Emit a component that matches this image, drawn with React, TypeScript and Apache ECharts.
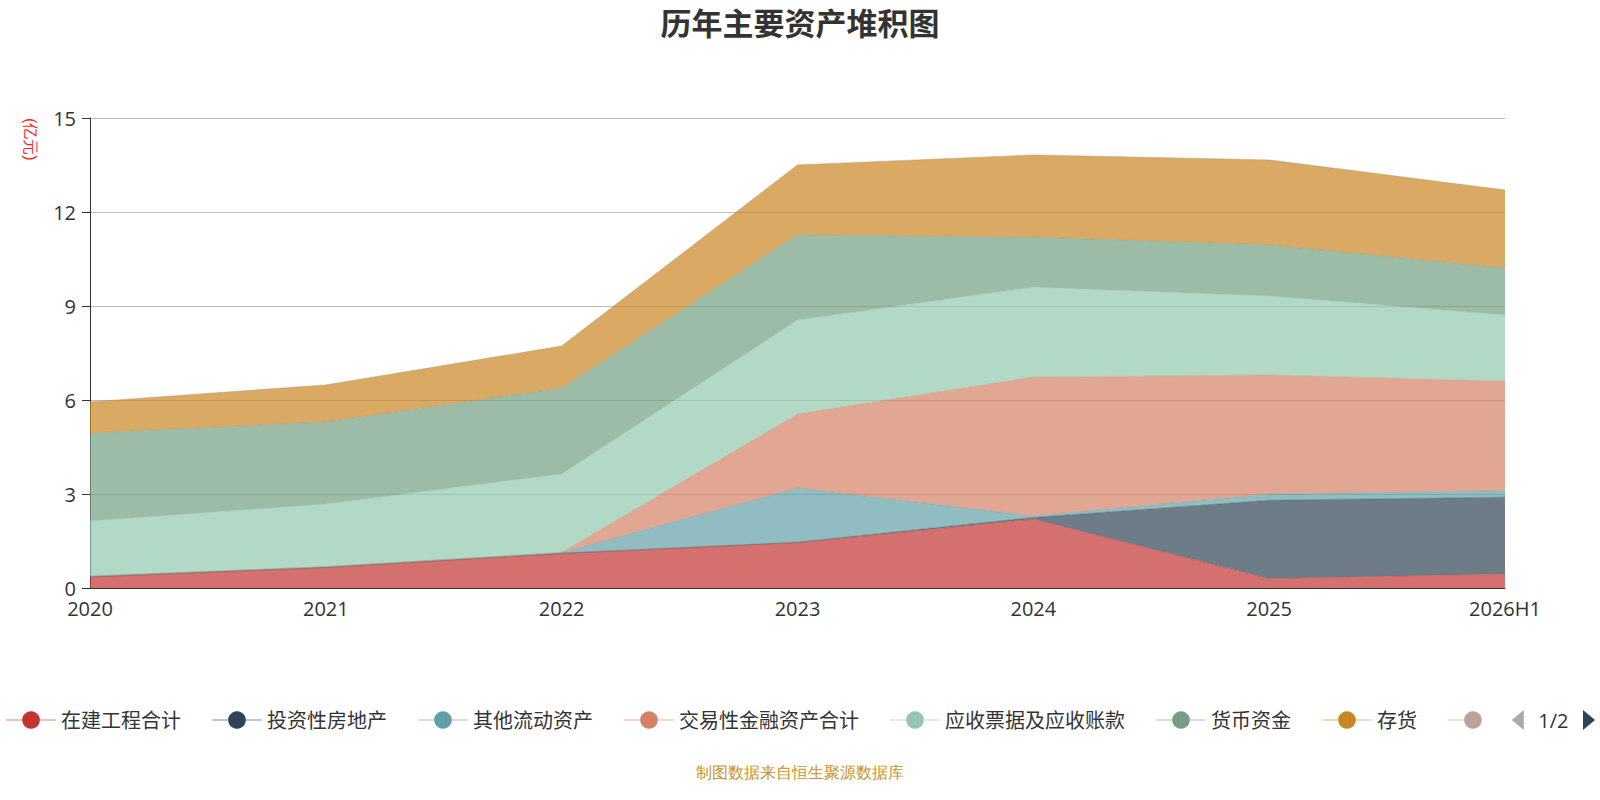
import { useEffect, useRef } from "react";
import * as echarts from "echarts";

const YEARS = ["2020", "2021", "2022", "2023", "2024", "2025", "2026H1"];
const NAMES = ["在建工程合计", "投资性房地产", "其他流动资产", "交易性金融资产合计", "应收票据及应收账款", "货币资金", "存货", "其他非流动资产"];
const COLORS = ["#c23531", "#2f4554", "#61a0a8", "#d48265", "#91c7ae", "#749f83", "#ca8622", "#bda29a"];
const CIP = [0.35, 0.65, 1.1, 1.45, 2.2, 0.3, 0.45];
const PROPERTY = [0.01, 0.01, 0.01, 0.01, 0.05, 2.5, 2.45];
const OTHER_CURRENT = [0.02, 0.02, 0.02, 1.73, 0.05, 0.2, 0.2];
const TRADING = [0, 0, 0, 2.36, 4.43, 3.8, 3.5];
const RECEIVABLES = [1.76, 2.0, 2.51, 3.0, 2.87, 2.52, 2.11];
const CASH = [2.81, 2.62, 2.74, 2.72, 1.6, 1.63, 1.5];
const INVENTORY = [0.99, 1.18, 1.34, 2.23, 2.62, 2.71, 2.49];
const OTHER_NONCURRENT = [0, 0, 0, 0, 0, 0, 0];
const VALUES = [CIP, PROPERTY, OTHER_CURRENT, TRADING, RECEIVABLES, CASH, INVENTORY, OTHER_NONCURRENT];

export default function App() {
  const chartRef = useRef<HTMLDivElement>(null);

  useEffect(() => {
    document.body.style.margin = "0";
    if (!chartRef.current) return;
    const chart = echarts.init(chartRef.current, undefined, { renderer: "svg" });
    chart.setOption({
      animation: false,
      textStyle: { fontFamily: "Open Sans, Noto Sans CJK SC" },
      title: {
        text: "历年主要资产堆积图",
        left: "center",
        top: 2,
        textStyle: { fontSize: 31, fontWeight: "bold", color: "#333" },
      },
      grid: { left: 90, right: 95, top: 118, bottom: 212 },
      xAxis: {
        type: "category",
        data: YEARS,
        boundaryGap: false,
        axisLine: { lineStyle: { color: "#333" } },
        axisTick: { show: false },
        axisLabel: { fontSize: 20, color: "#333", margin: 10 },
      },
      yAxis: {
        type: "value",
        min: 0,
        max: 15,
        interval: 3,
        axisLine: { show: true, lineStyle: { color: "#333" } },
        axisTick: { show: true, length: 8 },
        axisLabel: { fontSize: 20, color: "#333", margin: 14 },
        splitLine: { lineStyle: { color: "#bbb" } },
      },
      legend: {
        type: "scroll",
        top: 705,
        left: 0,
        right: 30,
        itemWidth: 50,
        itemHeight: 22,
        itemGap: 30,
        textStyle: { fontSize: 20, color: "#333" },
        pageIconColor: "#2f4554",
        pageIconInactiveColor: "#aaa",
        pageIconSize: 20,
        pageTextStyle: { fontSize: 20, color: "#333" },
      },
      graphic: [
        {
          type: "text",
          left: 22,
          top: 118,
          rotation: -Math.PI / 2,
          style: { text: "(亿元)", fill: "#f22", fontSize: 16 },
        },
        {
          type: "text",
          left: "center",
          top: 764,
          style: { text: "制图数据来自恒生聚源数据库", fill: "#c8922a", fontSize: 16 },
        },
      ],
      series: VALUES.map((v, i) => ({
        name: NAMES[i],
        type: "line",
        stack: "total",
        data: v,
        symbol: "circle",
        symbolSize: 22,
        showSymbol: false,
        color: COLORS[i],
        lineStyle: { width: 1, opacity: 0.3 },
        areaStyle: { opacity: 0.7 },
      })),
    });
    return () => chart.dispose();
  }, []);

  return <div ref={chartRef} style={{ width: 1600, height: 800 }} />;
}
